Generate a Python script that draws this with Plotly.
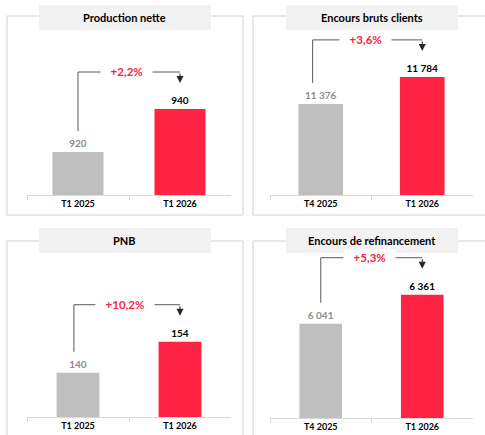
import plotly.graph_objects as go

# ---- data ----
titles = ["Production nette", "Encours bruts clients", "PNB", "Encours de refinancement"]
categories = [["T1 2025", "T1 2026"], ["T4 2025", "T1 2026"], ["T1 2025", "T1 2026"], ["T4 2025", "T1 2026"]]
prev_values = [920, 11376, 140, 6041]
curr_values = [940, 11784, 154, 6361]
growth_labels = ["+2,2%", "+3,6%", "+10,2%", "+5,3%"]
axis_min = [900, 10000, 120, 5000]
px_per_unit = [2.15, 0.0662, 2.214, 0.0906]

W, H = 485, 435
GRAY = "#BFBFBF"
RED = "#FF2343"
FONT = "Lato"

# panel geometry in pixels: (x_left, x_right, y_top, y_base)
panels = [(27, 231, 31, 195), (270, 473, 31, 195), (27, 231, 254, 417), (270, 473, 254, 418)]
bar_widths = [0.5, 0.44, 0.42, 0.42]
bracket_left = [0.0, -0.08, -0.04, 0.0]
borders = [(7, 243, 16, 215), (253, 495, 16, 215), (7, 243, 241, 445), (253, 495, 241, 445)]
title_boxes = [(39, 211, 5, 30), (286, 458, 5, 30), (39, 211, 228, 253), (286, 458, 228, 253)]

def fmt(v):
    return f"{v:,}".replace(",", " ")

fig = go.Figure()
shapes = []
annotations = []
layout = {}

for i in range(4):
    n = "" if i == 0 else str(i + 1)
    xl, xr, yt, yb = panels[i]
    xa, ya = "x" + n, "y" + n
    vals = [prev_values[i], curr_values[i]]
    s = px_per_unit[i]
    ymax = axis_min[i] + (yb - yt) / s
    fig.add_trace(go.Bar(
        x=categories[i], y=vals, xaxis=xa, yaxis=ya,
        marker=dict(color=[GRAY, RED], line=dict(width=0)),
        width=bar_widths[i],
        text=["<b>" + fmt(vals[0]) + "</b>", "<b>" + fmt(vals[1]) + "</b>"],
        textposition="outside", cliponaxis=False,
        textfont=dict(family=FONT, size=10, color=["#8C8C8C", "#000000"]),
        hoverinfo="skip", showlegend=False,
    ))
    layout["xaxis" + n] = dict(
        domain=[xl / W, xr / W], anchor=ya, type="category",
        showline=True, linecolor="#D9D9D9", linewidth=1,
        ticks="outside", tickson="boundaries", ticklen=4, tickcolor="#D9D9D9",
        tickfont=dict(family=FONT, size=9, color="#000000", weight="bold"),
        showgrid=False, zeroline=False, fixedrange=True,
    )
    layout["yaxis" + n] = dict(
        domain=[1 - yb / H, 1 - yt / H], anchor=xa,
        range=[axis_min[i], ymax], visible=False, showgrid=False,
        fixedrange=True,
    )

    # panel border
    bx0, bx1, by0, by1 = borders[i]
    shapes.append(dict(type="rect", xref="paper", yref="paper",
                       x0=bx0 / W, x1=bx1 / W, y0=1 - by1 / H, y1=1 - by0 / H,
                       line=dict(color="#D0D0D0", width=1), fillcolor="rgba(0,0,0,0)",
                       layer="below"))
    # title box
    tx0, tx1, ty0, ty1 = title_boxes[i]
    shapes.append(dict(type="rect", xref="paper", yref="paper",
                       x0=tx0 / W, x1=tx1 / W, y0=1 - ty1 / H, y1=1 - ty0 / H,
                       line=dict(width=0), fillcolor="#F2F2F2", layer="below"))
    annotations.append(dict(xref="paper", yref="paper", x=(tx0 + tx1) / 2 / W,
                            y=1 - (ty0 + ty1) / 2 / H, text="<b>" + titles[i] + "</b>",
                            showarrow=False, xanchor="center", yanchor="middle",
                            font=dict(family=FONT, size=11, color="#000000")))

    # bracket
    y_left_bottom = vals[0] + 21 / s
    y_level = vals[1] + 37 / s
    y_tip = vals[1] + 26 / s
    lc = "#595959"
    bl = bracket_left[i]
    shapes.append(dict(type="line", xref=xa, yref=ya, x0=bl, x1=bl,
                       y0=y_left_bottom, y1=y_level, line=dict(color=lc, width=1)))
    shapes.append(dict(type="line", xref=xa, yref=ya, x0=bl, x1=1,
                       y0=y_level, y1=y_level, line=dict(color=lc, width=1)))
    annotations.append(dict(xref=xa, yref=ya, x=1, y=y_tip, ax=1, ay=y_level,
                            axref=xa, ayref=ya, text="", showarrow=True,
                            arrowhead=2, arrowsize=1.4, arrowwidth=1, arrowcolor="#262626",
                            standoff=0))
    annotations.append(dict(xref=xa, yref=ya, x=(bl + 1) / 2 - 0.02, y=y_level,
                            text="\u2003" + growth_labels[i] + "\u2003",
                            showarrow=False, xanchor="center", yanchor="middle",
                            bgcolor="#FFFFFF", borderpad=1,
                            font=dict(family=FONT, size=11.5, color=RED, weight="bold")))

fig.update_layout(
    width=W, height=H, margin=dict(l=0, r=0, t=0, b=0),
    paper_bgcolor="#FFFFFF", plot_bgcolor="rgba(0,0,0,0)",
    shapes=shapes, annotations=annotations,
    font=dict(family=FONT), **layout,
)

fig.write_html("out.html", config={"displayModeBar": False},
               post_script="document.body.style.margin='0';")
